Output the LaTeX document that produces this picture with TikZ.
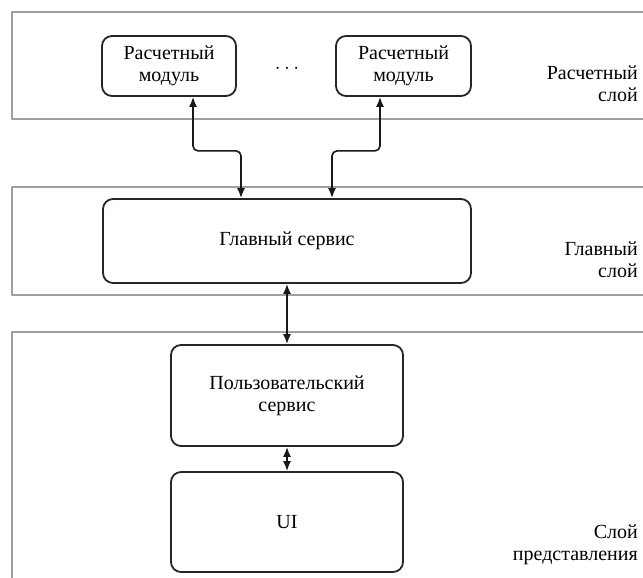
\documentclass[tikz,border=0pt]{standalone}
\usepackage{fontspec}
\setmainfont{Liberation Serif}
\usetikzlibrary{arrows.meta}

\begin{document}
\begin{tikzpicture}[x=1pt, y=-1pt, >={Latex[length=10pt,width=8pt]}, line join=round, line cap=round,
	font=\fontsize{20}{22}\selectfont,
	layer/.style={draw=gray!75, line width=1.8pt},
	block/.style={draw=black!85, line width=1.8pt, rounded corners=10pt, align=center, inner sep=0pt},
	link/.style={<->, draw=black!90, line width=1.6pt, rounded corners=5pt},
	layerlabel/.style={anchor=east, align=right, inner sep=0pt}]
	
	% ==========================================
	% KHUNG ẢNH
	% ==========================================
	\clip (0,0) rectangle (643,578);
	\fill[white] (0,0) rectangle (643,578);
	
	% 1. Các lớp (viền xám, kéo dài ra ngoài mép phải)
	\draw[layer] (12,12) rectangle (660,119);
	\draw[layer] (12,187) rectangle (660,295);
	\draw[layer] (12,332) rectangle (660,600);
	
	% 2. Lớp tính toán
	\node[block, minimum width=134pt, minimum height=60pt] (mod1) at (169,66) {Расчетный\\модуль};
	\node[block, minimum width=135pt, minimum height=60pt] (mod2) at (403.5,66) {Расчетный\\модуль};
	\node (dots) at (287,69) {$\cdots$};
	\node[layerlabel] (calclabel) at (638,83.5) {Расчетный\\слой};
	
	% 3. Lớp chính
	\node[block, minimum width=368pt, minimum height=84pt] (main) at (287,241) {Главный сервис};
	\node[layerlabel] (mainlabel) at (638,259.5) {Главный\\слой};
	
	% 4. Lớp hiển thị
	\node[block, minimum width=232pt, minimum height=101pt] (user) at (287,395.5) {Пользовательский\\сервис};
	\node[block, minimum width=232pt, minimum height=100pt] (ui) at (287,522) {UI};
	\node[layerlabel] (uilabel) at (638,545) {Слой\\представления};
	
	% 5. Các mũi tên hai chiều
	\draw[link] ([xshift=24pt]mod1.south) -- ++(0,54) -| ([xshift=-46pt]main.north);
	\draw[link] ([xshift=-23.5pt]mod2.south) -- ++(0,54) -| ([xshift=45pt]main.north);
	\draw[link] (main.south) -- (user.north);
	\draw[link] (user.south) -- (ui.north);
\end{tikzpicture}
\end{document}
